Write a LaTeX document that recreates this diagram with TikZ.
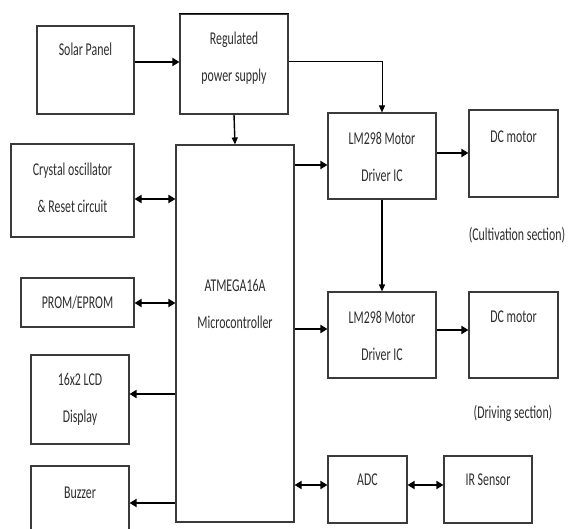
\documentclass[tikz,border=0pt]{standalone}
\usepackage{fontspec}
\setmainfont{Carlito}[FakeStretch=0.66]
\usetikzlibrary{arrows.meta}
\definecolor{boxc}{HTML}{3A3A3A}
\definecolor{txtc}{HTML}{2E2E2E}
\tikzset{
  box/.style={draw=boxc, line width=1.1pt, rectangle, inner sep=0pt},
  lbl/.style={text=txtc, align=center, anchor=center, font=\fontsize{18}{37}\selectfont, inner sep=0pt},
  thk/.style={line width=2.6pt, -{Triangle[length=7pt,width=8pt]}},
  dbl/.style={line width=2.6pt, {Triangle[length=7pt,width=8pt]}-{Triangle[length=7pt,width=8pt]}},
  thn/.style={line width=1pt, -{Triangle[length=7pt,width=6pt]}},
  med/.style={line width=1.4pt, -{Triangle[length=7pt,width=6pt]}},
}
\begin{document}
\begin{tikzpicture}[x=1pt,y=-1pt]
\useasboundingbox[fill=white] (0,0) rectangle (581,529);
% boxes
\node[box, minimum width=97pt, minimum height=88pt, label={[lbl,yshift=-24pt]north:Solar Panel}] (solar) at (85.5,70) {};
\node[box, minimum width=108pt, minimum height=100pt, label={[lbl,yshift=-44.5pt]north:Regulated\\power supply}] (reg) at (234,64) {};
\node[box, minimum width=108pt, minimum height=86pt, label={[lbl,yshift=-44.5pt]north:LM298 Motor\\Driver IC}] (lm1) at (382,156) {};
\node[box, minimum width=89pt, minimum height=87pt, label={[lbl,yshift=-27pt]north:DC motor}] (dc1) at (513.5,153.5) {};
\node[lbl] (cult) at (517,235) {(Cultivation section)};
\node[box, minimum width=108pt, minimum height=86pt, label={[lbl,yshift=-44pt]north:LM298 Motor\\Driver IC}] (lm2) at (382,335) {};
\node[box, minimum width=89pt, minimum height=86pt, label={[lbl,yshift=-25pt]north:DC motor}] (dc2) at (513.5,335) {};
\node[lbl] (drive) at (513,413) {(Driving section)};
\node[box, minimum width=79pt, minimum height=67pt, label={[lbl,yshift=-24pt]north:ADC}] (adc) at (367.5,489.5) {};
\node[box, minimum width=88pt, minimum height=67pt, label={[lbl,yshift=-24pt]north:IR Sensor}] (ir) at (488,489.5) {};
\node[box, minimum width=118pt, minimum height=377pt, label={[lbl,yshift=-159.5pt]north:ATMEGA16A\\Microcontroller}] (atm) at (235,333.5) {};
\node[box, minimum width=123pt, minimum height=93pt, label={[lbl,yshift=-44.5pt]north:Crystal oscillator\\\& Reset circuit}] (crys) at (72.5,190.5) {};
\node[box, minimum width=113pt, minimum height=49pt, label={[lbl,yshift=-25pt]north:PROM/EPROM}] (prom) at (77.5,302.5) {};
\node[box, minimum width=98pt, minimum height=89pt, label={[lbl,yshift=-45pt]north:16x2 LCD\\Display}] (lcd) at (80,399.5) {};
\node[box, minimum width=98pt, minimum height=80pt, label={[lbl,yshift=-27pt]north:Buzzer}] (buz) at (80,506) {};
\draw[line width=1.8pt] (reg.north west) -- (reg.north east);
% connectors
\draw[thk] (solar.east |- 0,62) -- (reg.west |- 0,62);
\draw[thn] (reg.east |- 0,62) -| (lm1.north);
\draw[med] (reg.south) -- (atm.north);
\draw[thk] (atm.east |- 0,165) -- (lm1.west |- 0,165);
\draw[thk] (lm1.east |- 0,153) -- (dc1.west |- 0,153);
\draw[med] (lm1.south) -- (lm2.north);
\draw[thk] (atm.east |- 0,329) -- (lm2.west |- 0,329);
\draw[thk] (lm2.east |- 0,330) -- (dc2.west |- 0,330);
\draw[dbl] (atm.east |- 0,485) -- (adc.west |- 0,485);
\draw[dbl] (adc.east |- 0,485) -- (ir.west |- 0,485);
\draw[dbl] (crys.east |- 0,199) -- (atm.west |- 0,199);
\draw[dbl] (prom.east |- 0,303) -- (atm.west |- 0,303);
\draw[thk] (atm.west |- 0,394) -- (lcd.east |- 0,394);
\draw[thk] (atm.west |- 0,503) -- (buz.east |- 0,503);
\end{tikzpicture}
\end{document}
